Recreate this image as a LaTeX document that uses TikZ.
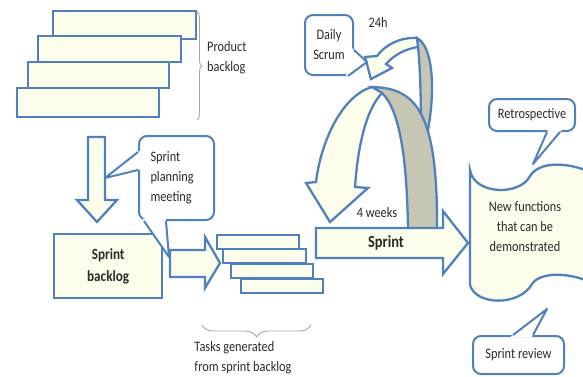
\documentclass[tikz,border=0pt]{standalone}
\usepackage{fontspec}
\setmainfont{Carlito}[FakeStretch=0.85]
\usetikzlibrary{positioning,calc,decorations.pathreplacing}
\definecolor{edgeblue}{HTML}{4F81BD}
\definecolor{paleyellow}{HTML}{FDFDEB}
\definecolor{ribgray}{HTML}{C7C5B3}
\definecolor{inkgray}{HTML}{2A2A2A}
\tikzset{
  card/.style={draw=edgeblue, line width=2.3pt, fill=paleyellow, inner sep=0pt, anchor=north west},
  callout/.style={draw=edgeblue, line width=2pt, fill=white, rounded corners=8pt, align=center, anchor=north west, font=\fontsize{14.5}{20}\selectfont, text=inkgray},
  pin/.style={draw=edgeblue, line width=2pt, line join=round},
  blk/.style={draw=edgeblue, line width=2.3pt, fill=paleyellow, line join=miter},
  rib/.style={blk, fill=ribgray},
  brc/.style={draw=gray!70, line width=0.9pt, decorate},
  lbl/.style={font=\fontsize{14.5}{20}\selectfont, text=inkgray, align=center, inner sep=0pt},
}
\newcommand{\calloutpin}[3]{%
  \fill[white] ($(#1)!-3pt!(#2)$) -- (#2) -- ($(#3)!-3pt!(#2)$) -- cycle;
  \draw[pin] (#1) -- (#2) -- (#3);}

\begin{document}
\begin{tikzpicture}[x=1pt, y=-1pt]
\useasboundingbox (0,0) rectangle (583,376);
% product backlog
\foreach \n/\x/\y/\w/\h in {1/52/10/143/28, 2/37/35/143/26, 3/27/61/141/26, 4/16/87/142/29}
  \node[card, minimum width=\w pt, minimum height=\h pt] (pb\n) at (\x,\y) {};
\draw[brc, decoration={brace, amplitude=5pt}] (197,12) -- (197,120);
\node[lbl, align=left, anchor=west] (pblabel) at (207,58) {Product\\backlog};
\draw[blk] (88,137) -- (105,137) -- (105,200) -- (117,200) -- (97,222) -- (77,200) -- (88,200) -- cycle;
\node[card, minimum width=108pt, minimum height=64pt, font=\fontsize{15.5}{22}\selectfont\bfseries, text=inkgray, align=center] (sbl) at (53,233) {Sprint\\backlog};
% tasks
\draw[blk] (170,250) -- (205,250) -- (205,237) -- (220,263) -- (205,288) -- (205,277) -- (170,277) -- cycle;
\foreach \n/\x/\y/\w in {1/216/234/82, 2/222/248/83, 3/230/263/82, 4/240/278/82}
  \node[card, minimum width=\w pt, minimum height=14pt] (task\n) at (\x,\y) {};
\draw[brc, decoration={brace, amplitude=12pt, mirror}] (202,325) -- (311,325);
\node[lbl, align=left] (tasklabel) at (243,358) {Tasks generated\\from sprint backlog};
% 24h loop and 4 weeks arch
\draw[rib] (417,38) .. controls (432,46) and (436,85) .. (428,130) -- (421,130) .. controls (421,95) and (420,65) .. (418,47) -- cycle;
\draw[blk] (417,38) .. controls (400,37) and (385,45) .. (377,56) -- (365,57) -- (371,79) -- (392,68) -- (386,64) .. controls (394,55) and (405,49) .. (418,47) -- cycle;
\node[lbl] (h24) at (378,22) {24h};
\draw[rib] (372,87) .. controls (415,88) and (438,110) .. (437,230) -- (408,230) .. controls (407,160) and (400,110) .. (382,93) -- cycle;
\draw[blk] (372,87) .. controls (343,95) and (321,140) .. (316,182) -- (306,183) -- (330,222) -- (368,188) -- (355,187) .. controls (358,145) and (366,110) .. (382,93) -- cycle;
\node[lbl] (weeks) at (377,213) {4 weeks};
\draw[blk] (316,228) -- (443,228) -- (443,211) -- (468,243) -- (443,274) -- (443,258) -- (316,258) -- cycle;
\node[lbl, font=\fontsize{17}{20}\selectfont\bfseries] (sprint) at (386,243) {Sprint};
% outcome
\draw[blk] (470,170) .. controls (474,195) and (520,196) .. (530,176) .. controls (540,160) and (570,163) .. (590,172) -- (590,282) .. controls (568,272) and (540,272) .. (532,284) .. controls (520,306) and (476,306) .. (470,285) -- cycle;
\node[lbl] (newfn) at (525,227) {New functions\\that can be\\demonstrated};
% callouts
\node[callout, align=left, text width=52pt, minimum width=75pt, minimum height=84pt] (spm) at (138,135) {Sprint\\planning\\meeting};
\coordinate (spmA) at ($(spm.north west)+(0,17)$);
\coordinate (spmB) at ($(spm.north west)+(0,35)$);
\coordinate (downpin) at (105,178);
\calloutpin{spmA}{downpin}{spmB}
\coordinate (spmC) at ($(spm.south west)+(6,0)$);
\coordinate (spmD) at ($(spm.south west)+(28,0)$);
\coordinate (rightpin) at (169,257);
\calloutpin{spmC}{rightpin}{spmD}
\node[callout, minimum width=48pt, minimum height=60pt] (daily) at (304,14) {Daily\\Scrum};
\coordinate (dailyA) at ($(daily.north east)+(0,36)$);
\coordinate (dailyB) at ($(daily.south east)+(-6,0)$);
\coordinate (loophead) at (367,62);
\calloutpin{dailyA}{loophead}{dailyB}
\node[callout, minimum width=86pt, minimum height=32pt] (retro) at (488,98) {Retrospective};
\coordinate (retroA) at ($(retro.south west)+(59,0)$);
\coordinate (retroB) at ($(retro.south west)+(72,0)$);
\coordinate (docTop) at (533,164);
\calloutpin{retroA}{docTop}{retroB}
\node[callout, minimum width=91pt, minimum height=38pt] (review) at (472,335) {Sprint review};
\coordinate (reviewA) at ($(review.north west)+(41,0)$);
\coordinate (reviewB) at ($(review.north west)+(61,0)$);
\coordinate (docBottom) at (547,309);
\calloutpin{reviewA}{docBottom}{reviewB}
\end{tikzpicture}
\end{document}
